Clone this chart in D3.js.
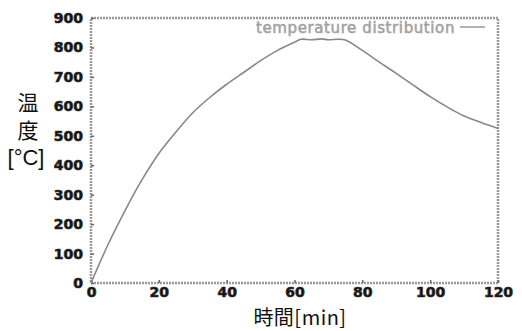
<!DOCTYPE html>
<head>
	<meta charset="utf-8">
	<script src="https://d3js.org/d3.v7.min.js"></script>
	<style>
		body { margin: 0; background: #fff; }
		.tick text {
			font-family: "DejaVu Sans";
			font-weight: bold;
			font-size: 14px;
			fill: #111;
		}
		.title {
			font-family: "Noto Sans CJK JP";
			fill: #111;
		}
	</style>
</head>
<body>

<svg width="522" height="331" id="chart"></svg>

<script>

	var times = [0, 5, 10, 15, 20, 25, 30, 35, 40, 45, 50, 55, 60, 62, 65, 68, 70, 73, 75, 80, 85, 90, 95, 100, 105, 110, 115, 120];
	var temps = [0, 130, 245, 350, 440, 512, 578, 630, 675, 715, 755, 790, 818, 828, 826, 829, 826, 828, 825, 790, 750, 712, 672, 633, 598, 567, 545, 525];
	var xTicks = [0, 20, 40, 60, 80, 100, 120];
	var yTicks = [0, 100, 200, 300, 400, 500, 600, 700, 800, 900];
	var legendLabel = "temperature distribution";

	var svg = d3.select("#chart"),
		margin = {top: 18, right: 24, bottom: 48, left: 91},
		width = +svg.attr("width"),
		height = +svg.attr("height");

	var x = d3.scaleLinear()
		.domain([0, 120])
		.range([margin.left, width - margin.right]);

	var y = d3.scaleLinear()
		.domain([0, 900])
		.range([height - margin.bottom, margin.top]);

	var data = times.map((t, i) => ({t: t, v: temps[i]}));

	// frame
	svg.append("rect")
		.attr("x", x(0))
		.attr("y", y(900))
		.attr("width", x(120) - x(0))
		.attr("height", y(0) - y(900))
		.attr("fill", "none")
		.attr("stroke", "#999")
		.attr("stroke-width", 2.5)
		.attr("stroke-dasharray", "2,1");

	var xAxis = svg.append("g")
		.attr("transform", "translate(0," + y(0) + ")")
		.call(d3.axisBottom(x).tickValues(xTicks).tickSize(-3).tickPadding(4));

	var yAxis = svg.append("g")
		.attr("transform", "translate(" + x(0) + ",0)")
		.call(d3.axisLeft(y).tickValues(yTicks).tickSize(-3).tickPadding(8));

	svg.selectAll(".domain").remove();
	svg.selectAll(".tick line").attr("stroke", "#666").attr("stroke-width", 1.5);
	svg.selectAll(".tick text").attr("stroke", "#333").attr("stroke-width", 0.7);

	// curve
	svg.append("path")
		.datum(data)
		.attr("fill", "none")
		.attr("stroke", "#888")
		.attr("stroke-width", 1.6)
		.attr("d", d3.line()
			.x(d => x(d.t))
			.y(d => y(d.v))
			.curve(d3.curveCatmullRom.alpha(0.5)));

	// legend
	svg.append("text")
		.attr("x", 455)
		.attr("y", 33)
		.attr("text-anchor", "end")
		.attr("font-family", "DejaVu Sans")
		.attr("font-size", 15)
		.attr("letter-spacing", 0.6)
		.attr("fill", "#999")
		.attr("stroke", "#aaa")
		.attr("stroke-width", 0.6)
		.text(legendLabel);

	svg.append("line")
		.attr("x1", 460)
		.attr("x2", 485)
		.attr("y1", 27)
		.attr("y2", 27)
		.attr("stroke", "#999")
		.attr("stroke-width", 1.5);

	// axis titles
	var yTitle = svg.append("text")
		.attr("class", "title")
		.attr("font-size", 21)
		.attr("text-anchor", "middle");

	yTitle.append("tspan").attr("x", 28).attr("y", 110).text("温");
	yTitle.append("tspan").attr("x", 28).attr("y", 138).text("度");
	yTitle.append("tspan").attr("x", 26).attr("y", 165).attr("font-family", "Liberation Sans").attr("font-size", 22).text("[°C]");

	svg.append("text")
		.attr("class", "title")
		.attr("x", 300)
		.attr("y", 325)
		.attr("text-anchor", "middle")
		.attr("font-size", 20)
		.attr("letter-spacing", 0.5)
		.text("時間[min]");

</script>
</body>
